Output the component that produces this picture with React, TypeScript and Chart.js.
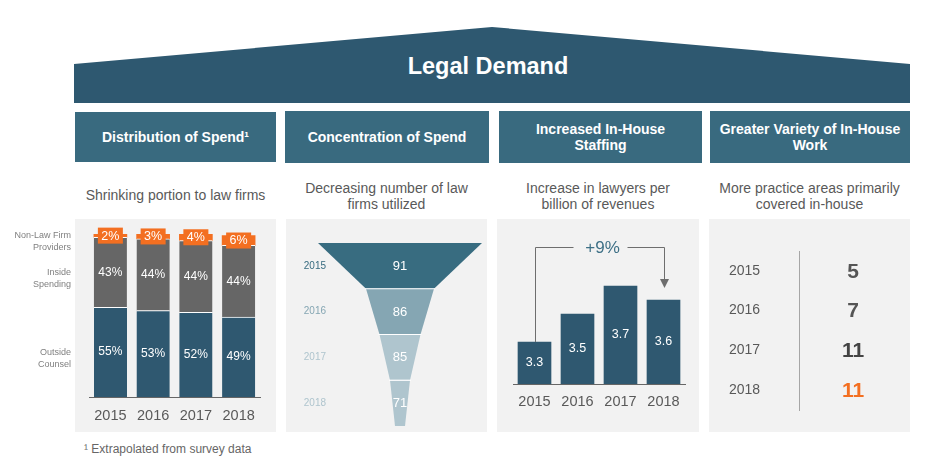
import React, { useEffect, useRef } from 'react';
import { Chart, registerables } from 'chart.js';

Chart.register(...registerables);

// ---------------- data ----------------
const years = ['2015', '2016', '2017', '2018'];

// Distribution of spend (%)
const outsideCounsel = [55, 53, 52, 49];
const insideSpending = [43, 44, 44, 44];
const nonLawFirmProviders = [2, 3, 4, 6];
const spendSeriesLabels = [['Outside', 'Counsel'], ['Inside', 'Spending'], ['Non-Law Firm', 'Providers']];

// Concentration of spend (number of law firms utilized)
const lawFirmsUtilized = [91, 86, 85, 71];

// Increased in-house staffing (lawyers per billion of revenues)
const lawyersPerBillion = [3.3, 3.5, 3.7, 3.6];
const lawyersChangeLabel = '+9%';

// Greater variety of in-house work (practice areas primarily covered in-house)
const practiceAreas = [5, 7, 11, 11];

const mainTitle = 'Legal Demand';
const panelTitles = [
  ['Distribution of Spend\u00b9'],
  ['Concentration of Spend'],
  ['Increased In-House', 'Staffing'],
  ['Greater Variety of In-House', 'Work'],
];
const panelSubtitles = [
  ['Shrinking portion to law firms'],
  ['Decreasing number of law', 'firms utilized'],
  ['Increase in lawyers per', 'billion of revenues'],
  ['More practice areas primarily', 'covered in-house'],
];
const footnote = '\u00b9 Extrapolated from survey data';

// ---------------- styles ----------------
const FONT = '"Liberation Sans", Arial, Helvetica, sans-serif';
const ROOF = '#2e5870';
const HEADER = '#396a7f';
const PANEL_BG = '#f2f2f2';
const TEAL = '#2f5870';
const GRAY = '#666666';
const ORANGE = '#f36f21';
const TEXT = '#595959';
const FUNNEL_HALF_WIDTHS = [82, 34, 20.5, 10, 5];
const FUNNEL_COLORS = ['#386c80', '#85a6b3', '#afc5ce', '#afc5ce'];

const headerBoxes = [
  { l: 75, w: 201, t: 112, h: 50 },
  { l: 285, w: 204, t: 111, h: 52 },
  { l: 499, w: 203, t: 111, h: 52 },
  { l: 710, w: 200, t: 111, h: 52 },
];
const panelBoxes = [
  { l: 75, w: 201 },
  { l: 286, w: 201 },
  { l: 497, w: 202 },
  { l: 709, w: 201 },
];

// ---------------- chart configs ----------------
function spendConfig(): any {
  const labels = {
    id: 'spendLabels',
    afterDatasetsDraw(chart: any) {
      const ctx = chart.ctx;
      ctx.save();
      ctx.textAlign = 'center';
      ctx.textBaseline = 'middle';
      [0, 1].forEach((di) => {
        const meta = chart.getDatasetMeta(di);
        meta.data.forEach((el: any, i: number) => {
          ctx.fillStyle = '#ffffff';
          ctx.font = `12px ${FONT}`;
          ctx.fillText(`${chart.data.datasets[di].data[i]}%`, el.x, (el.y + el.base) / 2);
        });
      });
      const meta2 = chart.getDatasetMeta(2);
      meta2.data.forEach((el: any, i: number) => {
        const cy = (el.y + el.base) / 2;
        ctx.fillStyle = ORANGE;
        ctx.fillRect(el.x - 12.5, cy - 8, 25, 16);
        ctx.fillStyle = '#ffffff';
        ctx.font = `12.5px ${FONT}`;
        ctx.fillText(`${chart.data.datasets[2].data[i]}%`, el.x, cy + 0.5);
      });
      ctx.textAlign = 'right';
      ctx.font = `9px ${FONT}`;
      ctx.fillStyle = '#808080';
      spendSeriesLabels.forEach((lines, di) => {
        const el: any = chart.getDatasetMeta(di).data[0];
        const cy = (el.y + el.base) / 2;
        lines.forEach((ln, k) => ctx.fillText(ln, 71, cy + k * 12));
      });
      ctx.restore();
    },
  };
  return {
    type: 'bar',
    data: {
      labels: years,
      datasets: [
        { data: outsideCounsel, backgroundColor: TEAL, borderColor: '#ffffff', borderWidth: { top: 1, left: 0, right: 0, bottom: 0 }, borderSkipped: false },
        { data: insideSpending, backgroundColor: GRAY, borderColor: '#ffffff', borderWidth: { top: 1, left: 0, right: 0, bottom: 0 }, borderSkipped: false },
        { data: nonLawFirmProviders, backgroundColor: ORANGE, borderWidth: 0 },
      ],
    },
    options: {
      animation: false,
      responsive: false,
      maintainAspectRatio: false,
      devicePixelRatio: 1,
      layout: { padding: { left: 89, right: 16, top: 15, bottom: 0 } },
      datasets: { bar: { barThickness: 33 } },
      plugins: { legend: { display: false }, tooltip: { enabled: false } },
      scales: {
        x: {
          stacked: true,
          grid: { display: false, drawTicks: false },
          border: { display: true, color: '#666666', width: 1 },
          ticks: { color: TEXT, font: { size: 14.5, family: FONT }, padding: 10.5 },
          afterFit: (s: any) => { s.height = 35; },
        },
        y: { stacked: true, display: false, min: 0, max: 100 },
      },
    },
    plugins: [labels],
  };
}

function funnelConfig(): any {
  const funnel = {
    id: 'funnel',
    afterDatasetsDraw(chart: any) {
      const ctx = chart.ctx;
      const xs = chart.scales.x;
      const ys = chart.scales.y;
      const n = chart.data.labels.length;
      const band = (chart.chartArea.bottom - chart.chartArea.top) / n;
      ctx.save();
      for (let i = 0; i < n; i++) {
        const cy = ys.getPixelForValue(i);
        const t = cy - band / 2;
        const b = cy + band / 2;
        ctx.beginPath();
        ctx.moveTo(xs.getPixelForValue(-FUNNEL_HALF_WIDTHS[i]), t);
        ctx.lineTo(xs.getPixelForValue(FUNNEL_HALF_WIDTHS[i]), t);
        ctx.lineTo(xs.getPixelForValue(FUNNEL_HALF_WIDTHS[i + 1]), b);
        ctx.lineTo(xs.getPixelForValue(-FUNNEL_HALF_WIDTHS[i + 1]), b);
        ctx.closePath();
        ctx.fillStyle = FUNNEL_COLORS[i];
        ctx.fill();
      }
      ctx.strokeStyle = '#ffffff';
      ctx.lineWidth = 1.2;
      for (let i = 1; i < n; i++) {
        const yb = ys.getPixelForValue(i) - band / 2;
        ctx.beginPath();
        ctx.moveTo(xs.getPixelForValue(-FUNNEL_HALF_WIDTHS[i]) - 1, yb);
        ctx.lineTo(xs.getPixelForValue(FUNNEL_HALF_WIDTHS[i]) + 1, yb);
        ctx.stroke();
      }
      ctx.textBaseline = 'middle';
      for (let i = 0; i < n; i++) {
        const cy = ys.getPixelForValue(i);
        ctx.textAlign = 'center';
        ctx.fillStyle = '#ffffff';
        ctx.font = `13px ${FONT}`;
        ctx.fillText(String(chart.data.datasets[0].data[i]), xs.getPixelForValue(0), cy + 0.5);
        ctx.textAlign = 'right';
        ctx.fillStyle = FUNNEL_COLORS[i];
        ctx.font = `10px ${FONT}`;
        ctx.fillText(chart.data.labels[i], 40, cy);
      }
      ctx.restore();
    },
  };
  return {
    type: 'bar',
    data: {
      labels: years,
      datasets: [{ data: lawFirmsUtilized, backgroundColor: 'rgba(0,0,0,0)', borderWidth: 0 }],
    },
    options: {
      indexAxis: 'y',
      animation: false,
      responsive: false,
      maintainAspectRatio: false,
      devicePixelRatio: 1,
      layout: { padding: { left: 32, right: 5, top: 24, bottom: 6 } },
      plugins: { legend: { display: false }, tooltip: { enabled: false } },
      scales: {
        x: { type: 'linear', display: false, min: -82, max: 82 },
        y: { type: 'category', display: false },
      },
    },
    plugins: [funnel],
  };
}

function staffingConfig(): any {
  const labels = {
    id: 'staffLabels',
    afterDatasetsDraw(chart: any) {
      const ctx = chart.ctx;
      const meta = chart.getDatasetMeta(0);
      const bottom = chart.chartArea.bottom;
      ctx.save();
      ctx.textAlign = 'center';
      ctx.textBaseline = 'middle';
      ctx.fillStyle = '#ffffff';
      ctx.font = `12.5px ${FONT}`;
      meta.data.forEach((el: any, i: number) => {
        const base = Math.min(el.base, bottom);
        ctx.fillText(Number(chart.data.datasets[0].data[i]).toFixed(1), el.x, (el.y + base) / 2);
      });
      // bracket annotation
      const first: any = meta.data[0];
      const last: any = meta.data[meta.data.length - 1];
      const level = chart.chartArea.top + 3.5;
      const mid = (first.x + last.x) / 2 + 1.5;
      const tip = last.y - 12;
      const x0 = Math.round(first.x) + 0.5;
      const x1 = Math.round(last.x) + 0.5;
      ctx.strokeStyle = '#6e6e6e';
      ctx.lineWidth = 1;
      ctx.beginPath();
      ctx.moveTo(x0, first.y);
      ctx.lineTo(x0, level);
      ctx.lineTo(mid - 27, level);
      ctx.moveTo(mid + 27, level);
      ctx.lineTo(x1, level);
      ctx.lineTo(x1, tip - 8);
      ctx.stroke();
      ctx.fillStyle = '#6e6e6e';
      ctx.beginPath();
      ctx.moveTo(x1 - 4.5, tip - 9);
      ctx.lineTo(x1 + 4.5, tip - 9);
      ctx.lineTo(x1, tip);
      ctx.closePath();
      ctx.fill();
      ctx.fillStyle = '#3e7086';
      ctx.font = `17px ${FONT}`;
      ctx.fillText(lawyersChangeLabel, mid + 2, level + 0.5);
      ctx.restore();
    },
  };
  return {
    type: 'bar',
    data: {
      labels: years,
      datasets: [{ data: lawyersPerBillion, backgroundColor: TEAL, borderWidth: 0 }],
    },
    options: {
      animation: false,
      responsive: false,
      maintainAspectRatio: false,
      devicePixelRatio: 1,
      layout: { padding: { left: 16, right: 14, top: 25, bottom: 0 } },
      datasets: { bar: { barThickness: 33 } },
      plugins: { legend: { display: false }, tooltip: { enabled: false } },
      scales: {
        x: {
          grid: { display: false, drawTicks: false },
          border: { display: true, color: '#666666', width: 1 },
          ticks: { color: TEXT, font: { size: 14.5, family: FONT }, padding: 9.5 },
          afterFit: (s: any) => { s.height = 48; },
        },
        y: { display: false, min: 3.0, max: 4.0 },
      },
    },
    plugins: [labels],
  };
}

function practiceConfig(): any {
  const values = {
    id: 'practiceValues',
    afterDatasetsDraw(chart: any) {
      const ctx = chart.ctx;
      const ys = chart.scales.y;
      const cx = (chart.chartArea.left + chart.chartArea.right) / 2;
      const data = chart.data.datasets[0].data;
      ctx.save();
      ctx.textAlign = 'center';
      ctx.textBaseline = 'middle';
      ctx.font = `bold 21px ${FONT}`;
      data.forEach((v: number, i: number) => {
        ctx.fillStyle = i === data.length - 1 ? ORANGE : i < 2 ? '#555555' : '#444444';
        ctx.fillText(String(v), cx, ys.getPixelForValue(i) + 1);
      });
      ctx.restore();
    },
  };
  return {
    type: 'bar',
    data: {
      labels: years,
      datasets: [{ data: practiceAreas, backgroundColor: 'rgba(0,0,0,0)', borderWidth: 0 }],
    },
    options: {
      indexAxis: 'y',
      animation: false,
      responsive: false,
      maintainAspectRatio: false,
      devicePixelRatio: 1,
      layout: { padding: { left: 20, right: 3, top: 32, bottom: 22 } },
      plugins: { legend: { display: false }, tooltip: { enabled: false } },
      scales: {
        x: { type: 'linear', display: false, min: 0, max: 12 },
        y: {
          type: 'category',
          position: 'left',
          grid: { display: false, drawTicks: false },
          border: { display: true, color: '#a6a6a6', width: 1 },
          ticks: { color: TEXT, font: { size: 14, family: FONT }, padding: 0, crossAlign: 'far' },
          afterFit: (s: any) => { s.width = 70; },
        },
      },
    },
    plugins: [values],
  };
}

// ---------------- components ----------------
function ChartBox(props: { left: number; top: number; width: number; height: number; make: () => any }) {
  const ref = useRef<HTMLCanvasElement>(null);
  useEffect(() => {
    const chart = new Chart(ref.current as HTMLCanvasElement, props.make());
    return () => chart.destroy();
  }, []);
  return (
    <canvas
      ref={ref}
      width={props.width}
      height={props.height}
      style={{ position: 'absolute', left: props.left, top: props.top, width: props.width, height: props.height }}
    />
  );
}

export default function App() {
  return (
    <div style={{ position: 'absolute', left: 0, top: 0, width: 926, height: 467, background: '#ffffff', fontFamily: FONT, overflow: 'hidden' }}>
      <div
        style={{
          position: 'absolute', left: 74, top: 27, width: 836, height: 76, background: ROOF,
          clipPath: 'polygon(0 37px, 418px 0, 836px 37px, 836px 76px, 0 76px)',
        }}
      />
      <div style={{ position: 'absolute', left: 74, top: 52, width: 828, height: 28, lineHeight: '28px', textAlign: 'center', color: '#ffffff', fontWeight: 700, fontSize: 23.5 }}>
        {mainTitle}
      </div>

      {headerBoxes.map((b, i) => (
        <div
          key={'h' + i}
          style={{
            position: 'absolute', left: b.l, top: b.t, width: b.w, height: b.h, background: HEADER,
            display: 'flex', flexDirection: 'column', justifyContent: 'center', alignItems: 'center',
            color: '#ffffff', fontWeight: 700, fontSize: 14, lineHeight: '16px', textAlign: 'center',
          }}
        >
          {panelTitles[i].map((ln, k) => <div key={k} style={{ whiteSpace: 'nowrap' }}>{ln}</div>)}
        </div>
      ))}

      {panelBoxes.map((b, i) => (
        <div
          key={'s' + i}
          style={{
            position: 'absolute', left: b.l, top: panelSubtitles[i].length > 1 ? 180 : 187, width: b.w,
            textAlign: 'center', color: TEXT, fontSize: 14, lineHeight: '16px',
          }}
        >
          {panelSubtitles[i].map((ln, k) => <div key={k}>{ln}</div>)}
        </div>
      ))}

      {panelBoxes.map((b, i) => (
        <div key={'p' + i} style={{ position: 'absolute', left: b.l, top: 219, width: b.w, height: 213, background: PANEL_BG }} />
      ))}

      <ChartBox left={0} top={219} width={276} height={213} make={spendConfig} />
      <ChartBox left={286} top={219} width={201} height={213} make={funnelConfig} />
      <ChartBox left={497} top={219} width={202} height={213} make={staffingConfig} />
      <ChartBox left={709} top={219} width={201} height={213} make={practiceConfig} />

      <div style={{ position: 'absolute', left: 84, top: 442, fontSize: 12, lineHeight: '14px', color: '#666666', whiteSpace: 'nowrap' }}>
        {footnote}
      </div>
    </div>
  );
}
